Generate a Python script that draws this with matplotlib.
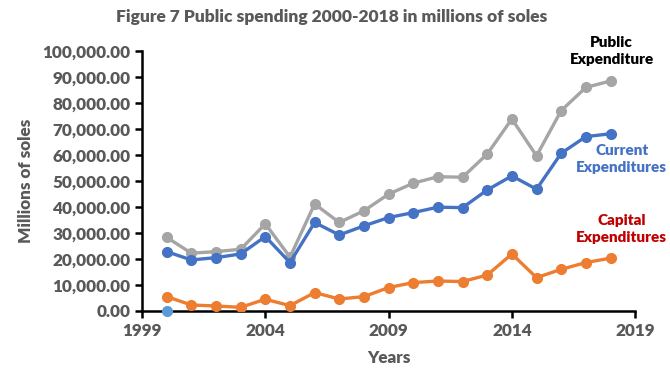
import matplotlib
matplotlib.use("Agg")
import matplotlib.pyplot as plt
from matplotlib.ticker import FuncFormatter

# values (millions of soles)
years = list(range(2000, 2019))
current = [22800, 19600, 20500, 21900, 28600, 18600, 34000, 29200, 32700, 35900,
           37800, 39900, 39700, 46500, 51900, 46800, 60600, 67000, 68100]
capital = [5500, 2300, 1900, 1400, 4500, 2050, 7050, 4600, 5500, 9000,
           10900, 11500, 11300, 13800, 21900, 12800, 16000, 18600, 20300]
public = [28300, 22200, 22800, 23700, 33500, 20700, 41100, 34000, 38500, 44900,
          49100, 51600, 51400, 60300, 73800, 59600, 77000, 85900, 88400]
# stray point at 2000, value 0 (the "Years" series in the source sheet)
stray_x = [2000]
stray_y = [0]

plt.rcParams['font.family'] = ['Lato', 'DejaVu Sans']
grey = '#595959'

fig = plt.figure(figsize=(6.7, 3.76), dpi=100)
ax = fig.add_axes([0.212, 0.173, 0.736, 0.692])

ax.plot(years, public, color='#A5A5A5', lw=2.4, marker='o', ms=7, zorder=3)
ax.plot(years, current, color='#4472C4', lw=2.4, marker='o', ms=7, zorder=3)
ax.plot(years, capital, color='#ED7D31', lw=2.4, marker='o', ms=7, zorder=3)
ax.plot(stray_x, stray_y, color='#5B9BD5', ls='none', marker='o', ms=7, zorder=4, clip_on=False)

ax.set_xlim(1999, 2019)
ax.set_ylim(0, 100000)
ax.set_xticks(range(1999, 2020, 5))
ax.set_yticks(range(0, 100001, 10000))
ax.yaxis.set_major_formatter(FuncFormatter(lambda v, p: f"{v:,.2f}"))

for s in ['top', 'right']:
    ax.spines[s].set_visible(False)
for s in ['left', 'bottom']:
    ax.spines[s].set_linewidth(1.8)
    ax.spines[s].set_color('black')
ax.tick_params(direction='out', length=5, width=1.8, color='black',
               labelsize=12.3, labelcolor=grey)
for lbl in ax.get_xticklabels() + ax.get_yticklabels():
    lbl.set_fontweight('heavy')

ax.set_xlabel('Years', fontsize=12.3, fontweight='heavy', color=grey, labelpad=8)
ax.set_ylabel('Millions of soles', fontsize=12.3, fontweight='heavy', color=grey, labelpad=6)
fig.text(0.495, 0.955, 'Figure 7 Public spending 2000-2018 in millions of soles',
         ha='center', va='center', fontsize=12.5, fontweight='heavy', color=grey)

fig.text(0.913, 0.864, 'Public\nExpenditure', ha='center', va='center',
         fontsize=11, fontweight='heavy', color='black', linespacing=1.35)
fig.text(0.928, 0.577, 'Current\nExpenditures', ha='center', va='center',
         fontsize=11, fontweight='heavy', color='#4472C4', linespacing=1.35)
fig.text(0.928, 0.391, 'Capital\nExpenditures', ha='center', va='center',
         fontsize=11, fontweight='heavy', color='#C00000', linespacing=1.35)

fig.savefig('out.png', dpi=100)
